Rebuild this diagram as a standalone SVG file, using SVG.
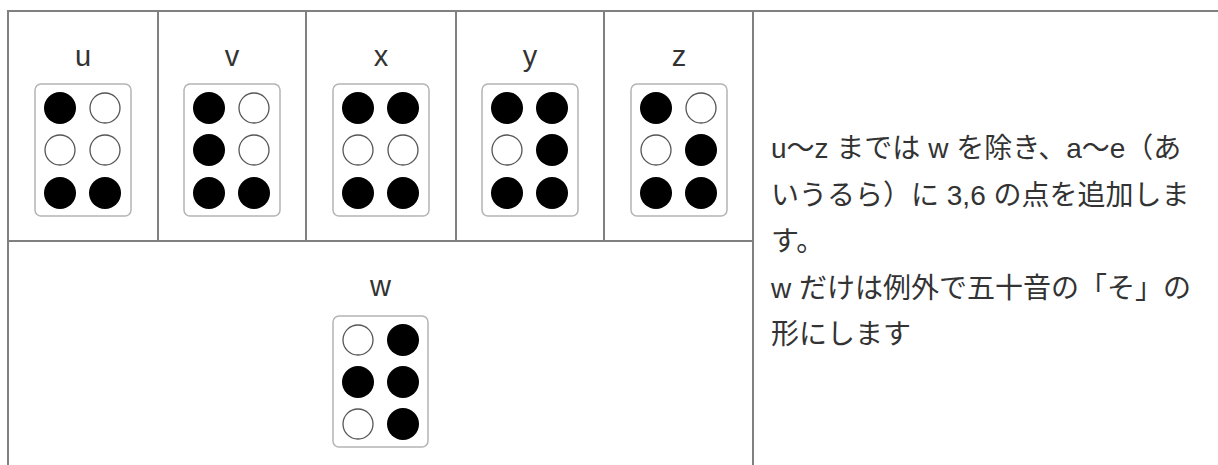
<svg xmlns="http://www.w3.org/2000/svg" width="1218" height="465" viewBox="0 0 1218 465">
<defs>
<style>
.grid{stroke:#808080;stroke-width:2;fill:none}
.box{fill:#fff;stroke:#b4b4b4;stroke-width:1.5}
.on{fill:#000}
.off{fill:#fff;stroke:#555;stroke-width:1.3}
.lbl{font-family:"Liberation Sans","Noto Sans CJK JP",sans-serif;font-size:29px;fill:#333;text-anchor:middle}
.txt{font-family:"Liberation Sans","Noto Sans CJK JP",sans-serif;font-size:28px;fill:#333}
</style>
</defs>
<rect width="1218" height="465" fill="#fff"/>
<g id="grid">
<line class="grid" x1="7" y1="11" x2="1218" y2="11"/>
<line class="grid" x1="8" y1="10" x2="8" y2="465"/>
<line class="grid" x1="753" y1="10" x2="753" y2="465"/>
<line class="grid" x1="8" y1="241" x2="753" y2="241"/>
<line class="grid" x1="158" y1="11" x2="158" y2="241"/>
<line class="grid" x1="306" y1="11" x2="306" y2="241"/>
<line class="grid" x1="456" y1="11" x2="456" y2="241"/>
<line class="grid" x1="604" y1="11" x2="604" y2="241"/>
</g>
<g id="cell-u">
<text class="lbl" x="83" y="66">u</text>
<rect class="box" x="35" y="84" width="96" height="132" rx="6"/>
<circle class="on" cx="60" cy="108" r="16"/><circle class="off" cx="105" cy="108" r="15"/>
<circle class="off" cx="60" cy="150" r="15"/><circle class="off" cx="105" cy="150" r="15"/>
<circle class="on" cx="60" cy="193" r="16"/><circle class="on" cx="105" cy="193" r="16"/>
</g>
<g id="cell-v">
<text class="lbl" x="232" y="66">v</text>
<rect class="box" x="184" y="84" width="96" height="132" rx="6"/>
<circle class="on" cx="209" cy="108" r="16"/><circle class="off" cx="254" cy="108" r="15"/>
<circle class="on" cx="209" cy="150" r="16"/><circle class="off" cx="254" cy="150" r="15"/>
<circle class="on" cx="209" cy="193" r="16"/><circle class="on" cx="254" cy="193" r="16"/>
</g>
<g id="cell-x">
<text class="lbl" x="381" y="66">x</text>
<rect class="box" x="333" y="84" width="96" height="132" rx="6"/>
<circle class="on" cx="358" cy="108" r="16"/><circle class="on" cx="403" cy="108" r="16"/>
<circle class="off" cx="358" cy="150" r="15"/><circle class="off" cx="403" cy="150" r="15"/>
<circle class="on" cx="358" cy="193" r="16"/><circle class="on" cx="403" cy="193" r="16"/>
</g>
<g id="cell-y">
<text class="lbl" x="530" y="66">y</text>
<rect class="box" x="482" y="84" width="96" height="132" rx="6"/>
<circle class="on" cx="507" cy="108" r="16"/><circle class="on" cx="552" cy="108" r="16"/>
<circle class="off" cx="507" cy="150" r="15"/><circle class="on" cx="552" cy="150" r="16"/>
<circle class="on" cx="507" cy="193" r="16"/><circle class="on" cx="552" cy="193" r="16"/>
</g>
<g id="cell-z">
<text class="lbl" x="679" y="66">z</text>
<rect class="box" x="631" y="84" width="96" height="132" rx="6"/>
<circle class="on" cx="656" cy="108" r="16"/><circle class="off" cx="701" cy="108" r="15"/>
<circle class="off" cx="656" cy="150" r="15"/><circle class="on" cx="701" cy="150" r="16"/>
<circle class="on" cx="656" cy="193" r="16"/><circle class="on" cx="701" cy="193" r="16"/>
</g>
<g id="cell-w">
<text class="lbl" x="380.5" y="296">w</text>
<rect class="box" x="333" y="316" width="95" height="131" rx="6"/>
<circle class="off" cx="358" cy="340" r="15"/><circle class="on" cx="403" cy="340" r="16"/>
<circle class="on" cx="358" cy="382" r="16"/><circle class="on" cx="403" cy="382" r="16"/>
<circle class="off" cx="358" cy="424" r="15"/><circle class="on" cx="403" cy="424" r="16"/>
</g>
<g id="description">
<text class="txt" x="771" y="158">u〜z までは w を除き、a〜e（あ</text>
<text class="txt" x="771" y="204.5">いうるら）に 3,6 の点を追加しま</text>
<text class="txt" x="771" y="251">す。</text>
<text class="txt" x="771" y="297.5">w だけは例外で五十音の「そ」の</text>
<text class="txt" x="771" y="344">形にします</text>
</g>
</svg>
